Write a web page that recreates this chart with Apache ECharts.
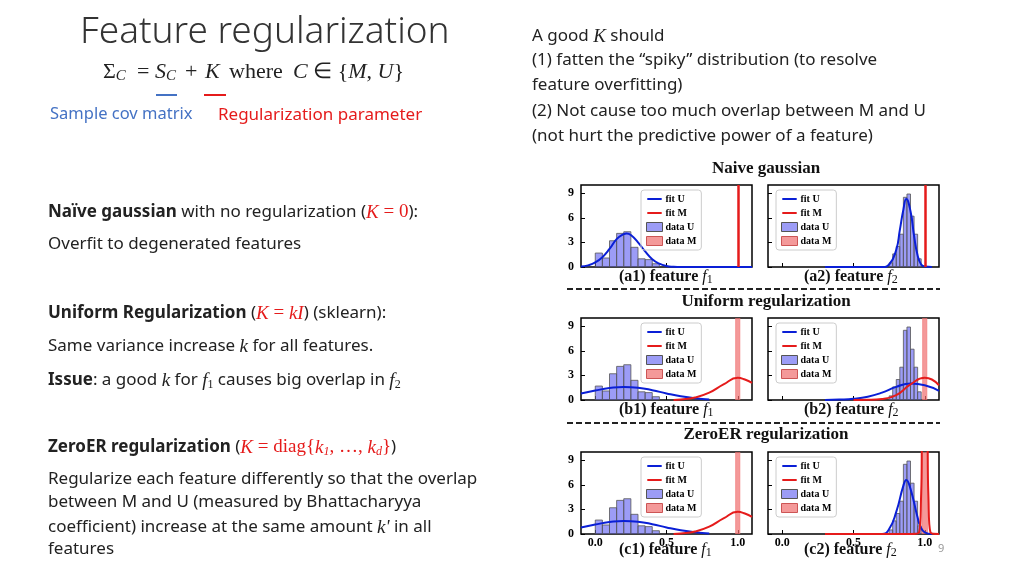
<!DOCTYPE html>
<html><head><meta charset="utf-8">
<script src="https://cdn.jsdelivr.net/npm/echarts@6/dist/echarts.min.js"></script>
<style>html,body{margin:0;background:#fff}#c{width:1024px;height:576px}</style>
</head><body><div id="c"></div>
<script>
var chart = echarts.init(document.getElementById('c'));

// histogram bins [x0, x1, count]
var histF1 = [[0,0.05,1.7],[0.05,0.1,1.1],[0.1,0.15,3.2],[0.15,0.2,4.1],[0.2,0.25,4.3],[0.25,0.3,2.4],[0.3,0.35,1.0],[0.35,0.4,0.9],[0.4,0.45,0.4]];
var histF2 = [[0.75,0.775,0.5],[0.775,0.8,1.6],[0.8,0.825,2.5],[0.825,0.85,4.0],[0.85,0.875,8.5],[0.875,0.9,8.9],[0.9,0.925,6.2],[0.925,0.95,4.0],[0.95,0.975,1.0]];
var histM = [[0.985,1.015,12]];
var histMwide = [[0.98,1.02,12]];

// fitted curves
var fitUa1 = [[-0.1,0.05],[-0.05,0.2],[0,0.55],[0.05,1.2],[0.1,2.2],[0.15,3.4],[0.2,4.0],[0.22,4.1],[0.25,3.9],[0.3,3.0],[0.35,1.9],[0.4,0.95],[0.45,0.4],[0.5,0.12],[0.55,0.03],[0.6,0],[1.1,0]];
var fitUa2 = [[0.3,0],[0.7,0],[0.75,0.3],[0.8,2.1],[0.825,4.5],[0.85,7.0],[0.87,8.3],[0.9,6.8],[0.925,3.8],[0.95,1.4],[0.975,0.3],[1.0,0.05],[1.05,0]];
var fitUb1 = [[-0.1,0.8],[0,1.15],[0.1,1.45],[0.2,1.6],[0.3,1.5],[0.4,1.2],[0.5,0.8],[0.6,0.45],[0.7,0.2],[0.8,0.05]];
var fitMb1 = [[0.55,0],[0.6,0.05],[0.7,0.3],[0.8,0.9],[0.9,1.9],[1.0,2.7],[1.05,2.5],[1.1,2.1]];
var fitUb2 = [[0.3,0],[0.4,0.05],[0.5,0.15],[0.6,0.4],[0.7,0.9],[0.8,1.6],[0.9,2.0],[1.0,1.8],[1.1,1.1]];
var fitMb2 = [[0.5,0],[0.6,0.02],[0.7,0.12],[0.8,0.6],[0.9,1.9],[1.0,2.7],[1.05,2.5],[1.1,1.8]];
var fitUc2 = [[0.3,0],[0.7,0],[0.75,0.6],[0.8,2.7],[0.85,5.9],[0.87,6.6],[0.9,5.5],[0.95,2.0],[0.97,0.9],[1.0,0.2],[1.05,0]];
var fitMc2 = [[0.3,0],[0.9,0],[0.96,0.2],[0.975,5],[0.985,12],[1.015,12],[1.025,5],[1.04,0.2],[1.1,0]];
var spikeX = 1.0;
var yTicks = [0, 3, 6, 9];
var xTicks = [0, 0.5, 1.0];

var serif = 'Liberation Serif';
var cols = [581, 768], rows = [185, 318, 452], gw = 171, gh = 82;
var grids = [], xAxes = [], yAxes = [], series = [], legends = [];
var lineIcon = 'path://M0,0H0.1V0.1H0Z M0,4H16V6H0Z M0,9.9H0.1V10H0Z';

function hist(name, gi, data, color, border) {
  series.push({
    name: name, type: 'custom', xAxisIndex: gi, yAxisIndex: gi, clip: true,
    itemStyle: { color: color },
    renderItem: function (p, api) {
      var a = api.coord([api.value(0), api.value(2)]);
      var b = api.coord([api.value(1), 0]);
      return { type: 'rect', shape: { x: a[0], y: a[1], width: b[0] - a[0], height: b[1] - a[1] },
        style: { fill: color, stroke: border, lineWidth: 0.8 } };
    },
    encode: { x: [0, 1], y: 2 }, data: data, z: 2
  });
}
function line(name, gi, data, color) {
  series.push({ name: name, type: 'line', xAxisIndex: gi, yAxisIndex: gi, data: data, smooth: true,
    symbol: 'none', clip: true, lineStyle: { color: color, width: 2 }, itemStyle: { color: color }, z: 3 });
}

var panels = [
  { u: fitUa1, m: null, h: histF1, mh: null },
  { u: fitUa2, m: null, h: histF2, mh: null },
  { u: fitUb1, m: fitMb1, h: histF1, mh: histM },
  { u: fitUb2, m: fitMb2, h: histF2, mh: histM },
  { u: fitUb1, m: fitMb1, h: histF1, mh: histM },
  { u: fitUc2, m: fitMc2, h: histF2, mh: histMwide }
];

panels.forEach(function (p, i) {
  var r = Math.floor(i / 2), c = i % 2;
  grids.push({ left: cols[c], top: rows[r], width: gw, height: gh, show: true, borderColor: '#000', borderWidth: 1.5 });
  xAxes.push({ type: 'value', gridIndex: i, min: -0.1, max: 1.1, interval: 0.5,
    splitLine: { show: false }, axisLine: { show: false, onZero: false },
    axisTick: { show: true, inside: true, length: 4, lineStyle: { color: '#000' }, customValues: xTicks },
    axisLabel: { show: r === 2, customValues: xTicks, formatter: function (v) { return v.toFixed(1); },
      fontFamily: serif, fontWeight: 'bold', fontSize: 12, color: '#000', margin: 3 } });
  yAxes.push({ type: 'value', gridIndex: i, min: 0, max: 10, splitLine: { show: false }, axisLine: { show: false, onZero: false },
    axisTick: { show: true, inside: true, length: 4, lineStyle: { color: '#000' }, customValues: yTicks },
    axisLabel: { show: c === 0, customValues: yTicks, fontFamily: serif, fontWeight: 'bold', fontSize: 12, color: '#000', margin: 7 } });
  hist('data U', i, p.h, 'rgba(90,90,240,0.6)', '#555');
  if (p.mh) hist('data M', i, p.mh, 'rgba(240,110,110,0.7)', 'rgba(240,110,110,0.7)');
  line('fit U', i, p.u, '#0a1fd6');
  if (p.m) line('fit M', i, p.m, '#e51b1b');
  else series.push({ name: 'fit M', type: 'line', xAxisIndex: i, yAxisIndex: i, data: [], symbol: 'none',
    lineStyle: { color: '#e51b1b', width: 2 }, itemStyle: { color: '#e51b1b' },
    markLine: { symbol: 'none', silent: true, label: { show: false }, lineStyle: { color: '#e51b1b', width: 2.5, type: 'solid' },
      data: [{ xAxis: spikeX }] } });
  legends.push({ left: cols[c] + (c === 0 ? 60 : 8), top: rows[r] + 5, orient: 'vertical', itemGap: 4,
    itemWidth: 16, itemHeight: 9, padding: [4, 5], borderColor: '#ccc', borderWidth: 1, borderRadius: 3,
    selectedMode: false,
    data: [{ name: 'fit U', icon: lineIcon, itemStyle: { color: '#0a1fd6' } },
      { name: 'fit M', icon: lineIcon, itemStyle: { color: '#e51b1b' } },
      { name: 'data U', icon: 'rect', itemStyle: { color: 'rgba(90,90,240,0.6)', borderColor: '#555', borderWidth: 1 } },
      { name: 'data M', icon: 'rect', itemStyle: { color: 'rgba(240,110,110,0.7)', borderColor: '#c55', borderWidth: 1 } }],
    textStyle: { fontFamily: serif, fontWeight: 'bold', fontSize: 10, color: '#000', padding: [0, 0, 0, -2] } });
});

var T = { fontFamily: 'Noto Sans', fontSize: 17, fill: '#222' };
function txt(x, y, text, extra) {
  var s = Object.assign({}, T, { text: text }, extra || {});
  return { type: 'text', left: x, top: y, style: s };
}
var RED = '#e51b1b';
var rich = { b: { fontWeight: 'bold', fontFamily: 'Noto Sans', fontSize: 17, fill: '#222' },
  n: { fontFamily: 'Noto Sans', fontSize: 17, fill: '#222' },
  r: { fontFamily: serif, fontStyle: 'italic', fontSize: 19, fill: RED },
  rs: { fontFamily: serif, fontSize: 19, fill: RED },
  rsub: { fontFamily: serif, fontStyle: 'italic', fontSize: 12, fill: RED, padding: [8, 0, 0, 0] },
  m: { fontFamily: serif, fontStyle: 'italic', fontSize: 19, fill: '#222' },
  sub: { fontFamily: serif, fontSize: 12, fill: '#222', padding: [8, 0, 0, 0] } };
function rt(x, y, text, fill) {
  return { type: 'text', left: x, top: y, style: { text: text, rich: rich, fontFamily: serif, fontSize: 19, fill: fill || '#222' } };
}
function fm(x, text) {
  return { type: 'text', left: x, top: 61, style: { text: text, fontFamily: serif, fontSize: 22, fill: '#222',
    rich: { i: { fontStyle: 'italic', fontFamily: serif, fontSize: 22 }, s: { fontStyle: 'italic', fontFamily: serif, fontSize: 15, padding: [9, 0, 0, 0] } } } };
}

var graphic = [
  txt(80, 14, 'Feature regularization', { fontSize: 37, fontWeight: 300, fill: '#333' }),
  fm(103, 'Σ{s|C}'),
  fm(137, '='),
  fm(155, '{i|S}{s|C}'),
  fm(185, '+'),
  fm(205, '{i|K}'),
  fm(229, 'where'),
  fm(293, '{i|C} ∈ {{i|M}, {i|U}}'),
  { type: 'rect', shape: { x: 156, y: 94, width: 21, height: 2 }, style: { fill: '#4472c4' } },
  { type: 'rect', shape: { x: 204, y: 94, width: 22, height: 2 }, style: { fill: RED } },
  txt(50, 106, 'Sample cov matrix', { fontSize: 16.5, fill: '#4472c4' }),
  txt(218, 107, 'Regularization parameter', { fontSize: 17, fill: RED }),
  rt(532, 27, '{n|A good }{m|K}{n| should}'),
  txt(532, 52, '(1) fatten the \u201cspiky\u201d distribution (to resolve'),
  txt(532, 77, 'feature overfitting)'),
  txt(532, 103, '(2) Not cause too much overlap between M and U'),
  txt(532, 128, '(not hurt the predictive power of a feature)'),
  rt(48, 203, '{b|Naïve gaussian}{n| with no regularization (}{r|K} {rs|= 0}{n|):}'),
  txt(48, 236, 'Overfit to degenerated features'),
  rt(48, 304, '{b|Uniform Regularization}{n| (}{r|K} {rs|=} {r|kI}{n|) (sklearn):}'),
  rt(48, 337, '{n|Same variance increase }{m|k}{n| for all features.}'),
  rt(48, 371, '{b|Issue}{n|: a good }{m|k}{n| for }{m|f}{sub|1}{n| causes big overlap in }{m|f}{sub|2}'),
  rt(48, 438, '{b|ZeroER regularization}{n| (}{r|K} {rs|= diag{}{r|k}{rsub|1}{rs|, …, }{r|k}{rsub|d}}{n|)}', RED),
  txt(48, 471, 'Regularize each feature differently so that the overlap'),
  txt(48, 494, 'between M and U (measured by Bhattacharyya'),
  rt(48, 518, "{n|coefficient) increase at the same amount }{m|k'}{n| in all}"),
  txt(48, 541, 'features'),
  txt(938, 543, '9', { fontSize: 11, fill: '#999' })
];
var titles = ['Naive gaussian', 'Uniform regularization', 'ZeroER regularization'];
var titleY = [160, 293, 426];
titles.forEach(function (t, r) {
  graphic.push({ type: 'text', x: 766, y: titleY[r], style: { text: t, fontFamily: serif, fontWeight: 'bold', fontSize: 17, fill: '#111', textAlign: 'center' } });
});
var subs = [['(a1) feature ', '(a2) feature '], ['(b1) feature ', '(b2) feature '], ['(c1) feature ', '(c2) feature ']];
var subY = [269, 402, 542];
subs.forEach(function (s, r) {
  s.forEach(function (lab, c) {
    graphic.push({ type: 'text', left: cols[c] + (c === 0 ? 38 : 36), top: subY[r],
      style: { text: lab + '{i|f}{s|' + (c + 1) + '}', fontFamily: serif, fontWeight: 'bold', fontSize: 16, fill: '#111',
        rich: { i: { fontFamily: serif, fontStyle: 'italic', fontSize: 16 }, s: { fontFamily: serif, fontSize: 12, padding: [6, 0, 0, 0] } } } });
  });
});
[289, 423].forEach(function (y) {
  graphic.push({ type: 'line', shape: { x1: 567, y1: y, x2: 940, y2: y }, style: { stroke: '#222', lineWidth: 1.8, lineDash: [6, 3] } });
});

chart.setOption({
  animation: false,
  grid: grids, xAxis: xAxes, yAxis: yAxes, series: series, legend: legends, graphic: graphic
});
</script></body></html>
